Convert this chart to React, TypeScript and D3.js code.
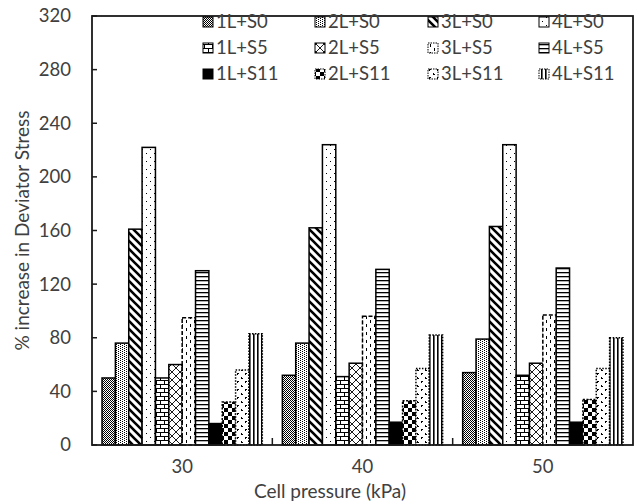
import React from 'react';
import * as d3 from 'd3';

const categories = ['30', '40', '50'];
const seriesNames = ['1L+S0', '2L+S0', '3L+S0', '4L+S0', '1L+S5', '2L+S5', '3L+S5', '4L+S5', '1L+S11', '2L+S11', '3L+S11', '4L+S11'];
const values30 = [50, 76, 161, 222, 50, 60, 95, 130, 16, 32, 56, 83];
const values40 = [52, 76, 162, 224, 51, 61, 96, 131, 17, 33, 57, 82];
const values50 = [54, 79, 163, 224, 52, 61, 97, 132, 17, 34, 57, 80];
const yTicks = [0, 40, 80, 120, 160, 200, 240, 280, 320];
const yTitle = '% increase in Deviator Stress';
const xTitle = 'Cell pressure (kPa)';

const dataByCat = [values30, values40, values50];

const W = 638, H = 503;
const L = 92, R = 633, T = 16, B = 445;
const FONT = 'Lato, "Open Sans", sans-serif';
const TXT = '#404040';

const borderDash = ['', '', '', '', '', '', '4 2', '', '', '2 1.5', '1.5 1.5', '1.5 1.5'];

function Patterns() {
  return (
    <defs>
      <pattern id="p0" width="2" height="2" patternUnits="userSpaceOnUse">
        <rect width="2" height="2" fill="#fff" />
        <rect x="0" y="0" width="1" height="1" fill="#000" />
        <rect x="1" y="1" width="1" height="1" fill="#000" />
      </pattern>
      <pattern id="p1" width="4" height="2" patternUnits="userSpaceOnUse">
        <rect width="4" height="2" fill="#fff" />
        <rect x="0" y="0" width="1" height="1" fill="#000" />
        <rect x="2" y="1" width="1" height="1" fill="#000" />
      </pattern>
      <pattern id="p2" width="8" height="8" patternUnits="userSpaceOnUse">
        <rect width="8" height="8" fill="#fff" />
        <path d="M-2,-2 L10,10 M-2,6 L2,10 M6,-2 L10,2" stroke="#000" strokeWidth="2.6" />
      </pattern>
      <pattern id="p3" width="8" height="8" patternUnits="userSpaceOnUse">
        <rect width="8" height="8" fill="#fff" />
        <rect x="2" y="1" width="1" height="1" fill="#000" />
        <rect x="6" y="5" width="1" height="1" fill="#000" />
      </pattern>
      <pattern id="p4" width="8" height="8" patternUnits="userSpaceOnUse">
        <rect width="8" height="8" fill="#fff" />
        <path d="M0,0.5 H8 M0,4.5 H8 M0.5,0.5 V4.5 M4.5,4.5 V8" stroke="#000" strokeWidth="1" />
      </pattern>
      <pattern id="p5" width="8" height="8" patternUnits="userSpaceOnUse">
        <rect width="8" height="8" fill="#fff" />
        <path d="M0,0 L8,8 M8,0 L0,8" stroke="#000" strokeWidth="0.9" />
      </pattern>
      <pattern id="p6" width="8" height="8" patternUnits="userSpaceOnUse">
        <rect width="8" height="8" fill="#fff" />
        <rect x="2" y="0" width="1" height="3" fill="#000" />
        <rect x="6" y="4" width="1" height="3" fill="#000" />
      </pattern>
      <pattern id="p7" width="4" height="4" patternUnits="userSpaceOnUse">
        <rect width="4" height="4" fill="#fff" />
        <rect x="0" y="0" width="4" height="1.3" fill="#000" />
      </pattern>
      <pattern id="p8" width="4" height="4" patternUnits="userSpaceOnUse">
        <rect width="4" height="4" fill="#000" />
      </pattern>
      <pattern id="p9" width="8" height="8" patternUnits="userSpaceOnUse">
        <rect width="8" height="8" fill="#fff" />
        <rect x="0" y="0" width="4" height="4" fill="#000" />
        <rect x="4" y="4" width="4" height="4" fill="#000" />
      </pattern>
      <pattern id="p10" width="8" height="8" patternUnits="userSpaceOnUse">
        <rect width="8" height="8" fill="#fff" />
        <rect x="1" y="1" width="1" height="2" fill="#000" />
        <rect x="2" y="2" width="1" height="1" fill="#000" />
        <rect x="5" y="5" width="1" height="2" fill="#000" />
        <rect x="6" y="5" width="1" height="1" fill="#000" />
      </pattern>
      <pattern id="p11" width="4" height="4" patternUnits="userSpaceOnUse">
        <rect width="4" height="4" fill="#fff" />
        <rect x="1" y="0" width="1.6" height="4" fill="#000" />
      </pattern>
    </defs>
  );
}

export default function App() {
  const x0 = d3.scaleBand<string>().domain(categories).range([L, R]).paddingInner(0).paddingOuter(0);
  const x1 = d3.scaleBand<string>().domain(seriesNames).range([0, x0.bandwidth()]).paddingInner(0).paddingOuter(0.75);
  const y = d3.scaleLinear().domain([0, 320]).range([B, T]);

  const legendCols = [203, 315, 428, 539];
  const legendRows = [22, 48, 74];

  return (
    <svg width={W} height={H} style={{ position: 'absolute', left: 0, top: 0, background: '#fff' }}>
      <Patterns />
      <rect x={0} y={0} width={W} height={H} fill="#fff" />

      {categories.map((c, ci) => (
        <g key={c}>
          {seriesNames.map((s, si) => {
            const v = dataByCat[ci][si];
            const bx = (x0(c) ?? 0) + (x1(s) ?? 0);
            const by = y(v);
            return (
              <rect key={s} x={bx} y={by} width={x1.bandwidth()} height={B - by}
                fill={`url(#p${si})`} stroke="#000" strokeWidth={1.5}
                strokeDasharray={borderDash[si] || undefined} />
            );
          })}
        </g>
      ))}

      <rect x={L} y={T} width={R - L} height={B - T} fill="none" stroke="#1a1a1a" strokeWidth={1.8} />

      {yTicks.map(t => (
        <g key={t}>
          <line x1={L} x2={L + 5} y1={y(t)} y2={y(t)} stroke="#1a1a1a" strokeWidth={1.5} />
          <text x={71} y={y(t)} dy="0.35em" textAnchor="end" fontFamily={FONT} fontSize={18.5} fill={TXT}>{t}</text>
        </g>
      ))}

      {categories.slice(1).map(c => (
        <line key={c} x1={x0(c)} x2={x0(c)} y1={B} y2={B - 7} stroke="#1a1a1a" strokeWidth={1.5} />
      ))}

      {categories.map(c => (
        <text key={c} x={(x0(c) ?? 0) + x0.bandwidth() / 2} y={467} dy="0.35em" textAnchor="middle"
          fontFamily={FONT} fontSize={18.5} fill={TXT}>{c}</text>
      ))}

      <text x={330} y={491} dy="0.35em" textAnchor="middle" fontFamily={FONT} fontSize={19} fill={TXT}>{xTitle}</text>
      <text transform={`translate(22,${(T + B) / 2}) rotate(-90)`} dy="0.35em" textAnchor="middle"
        fontFamily={FONT} fontSize={19} fill={TXT}>{yTitle}</text>

      {seriesNames.map((s, i) => {
        const col = i % 4, row = Math.floor(i / 4);
        const lx = legendCols[col], ly = legendRows[row];
        return (
          <g key={s}>
            <rect x={lx} y={ly - 5} width={10} height={10} fill={`url(#p${i})`} stroke="#000" strokeWidth={1}
              strokeDasharray={borderDash[i] ? '1.5 1' : undefined} />
            <text x={lx + 13} y={ly} dy="0.35em" fontFamily={FONT} fontSize={18.5} fill={TXT}>{s}</text>
          </g>
        );
      })}
    </svg>
  );
}
